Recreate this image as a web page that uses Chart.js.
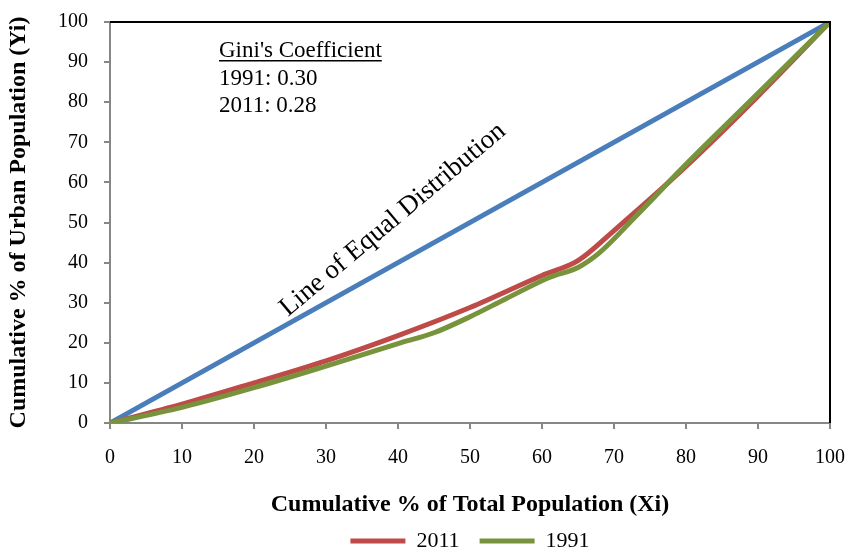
<!DOCTYPE html>
<html>
<head>
<meta charset="utf-8">
<script src="https://cdn.jsdelivr.net/npm/chart.js@4.4.1/dist/chart.umd.min.js"></script>
<style>
  html, body { margin: 0; padding: 0; background: #fff; }
  #wrap { width: 845px; height: 550px; }
</style>
</head>
<body>
<div id="wrap"><canvas id="lorenz" width="845" height="550"></canvas></div>
<script>
// Lorenz curve values (x = cumulative % total pop, y = cumulative % urban pop)
const equalX = [0, 100];
const equalY = [0, 100];

const x2011 = [0, 10, 20, 30, 40, 50, 60, 65, 70, 80, 90, 100];
const y2011 = [0, 4.7, 10, 15.5, 21.8, 28.8, 36.8, 40.5, 48, 64, 81.5, 100];

const x1991 = [0, 10, 20, 30, 40, 45, 50, 55, 61, 65, 68, 73, 80, 90, 100];
const y1991 = [0, 3.9, 8.8, 14.2, 19.8, 22.5, 26.5, 31, 36.3, 38.8, 42.5, 51.5, 64.5, 82.2, 100];

const giniTitle = "Gini's Coefficient";
const giniLines = ['1991: 0.30', '2011: 0.28'];
const equalLabel = 'Line of Equal Distribution';

const serif = '"Liberation Serif", "Times New Roman", serif';

function toPoints(xs, ys) {
  return xs.map((x, i) => ({ x: x, y: ys[i] }));
}

// draws the frame top/right lines and the text annotations
const annotations = {
  id: 'annotations',
  afterDraw(chart) {
    const ctx = chart.ctx;
    const area = chart.chartArea;
    ctx.save();
    // plot area border (top and right)
    ctx.strokeStyle = '#000';
    ctx.lineWidth = 2;
    ctx.beginPath();
    ctx.moveTo(area.left, area.top);
    ctx.lineTo(area.right, area.top);
    ctx.lineTo(area.right, area.bottom);
    ctx.stroke();

    // Gini box
    ctx.fillStyle = '#000';
    ctx.font = '23px ' + serif;
    ctx.textAlign = 'left';
    ctx.textBaseline = 'alphabetic';
    const gx = 219;
    ctx.fillText(giniTitle, gx, 57);
    const w = ctx.measureText(giniTitle).width;
    ctx.fillRect(gx, 60, w, 1.5);
    giniLines.forEach((t, i) => ctx.fillText(t, gx, 85 + i * 27));

    // rotated label along the equal line
    ctx.translate(288, 317);
    ctx.rotate(-40 * Math.PI / 180);
    ctx.font = '27px ' + serif;
    ctx.fillText(equalLabel, 0, 0);
    ctx.restore();
  }
};

const ctx = document.querySelector('#lorenz').getContext('2d');
const lorenzChart = new Chart(ctx, {
  type: 'line',
  data: {
    datasets: [
      {
        label: 'Equal',
        data: toPoints(equalX, equalY),
        borderColor: '#4a7ebb',
        backgroundColor: '#4a7ebb',
        borderWidth: 5,
        pointRadius: 0,
        order: 3
      },
      {
        label: '2011',
        data: toPoints(x2011, y2011),
        borderColor: '#be4b48',
        backgroundColor: '#be4b48',
        borderWidth: 5,
        pointRadius: 0,
        cubicInterpolationMode: 'monotone',
        order: 2
      },
      {
        label: '1991',
        data: toPoints(x1991, y1991),
        borderColor: '#77933c',
        backgroundColor: '#77933c',
        borderWidth: 5,
        pointRadius: 0,
        cubicInterpolationMode: 'monotone',
        order: 1
      }
    ]
  },
  options: {
    responsive: false,
    animation: false,
    layout: { padding: { top: 22, right: 0, bottom: -12, left: 0 } },
    plugins: {
      tooltip: { enabled: false },
      legend: {
        display: true,
        position: 'bottom',
        fullSize: false,
        labels: {
          filter: item => item.text !== 'Equal',
          sort: (a, b) => a.datasetIndex - b.datasetIndex,
          usePointStyle: true,
          pointStyle: 'line',
          pointStyleWidth: 55,
          color: '#000',
          padding: 20,
          font: { family: serif, size: 22 }
        }
      }
    },
    scales: {
      x: {
        type: 'linear',
        min: 0,
        max: 100,
        ticks: {
          stepSize: 10,
          color: '#000',
          padding: 17,
          font: { family: serif, size: 20 }
        },
        grid: {
          drawOnChartArea: false,
          drawTicks: true,
          tickLength: 6,
          color: '#868686',
          lineWidth: 2
        },
        border: { color: '#868686', width: 2 },
        title: {
          display: true,
          text: 'Cumulative % of Total Population (Xi)',
          color: '#000',
          font: { family: serif, size: 24, weight: 'bold' },
          padding: { top: 10, bottom: -9 }
        },
        afterFit(scale) {
          scale.height = 87;
          scale.paddingRight = 15;
        }
      },
      y: {
        type: 'linear',
        min: 0,
        max: 100,
        ticks: {
          stepSize: 10,
          color: '#000',
          padding: 16,
          font: { family: serif, size: 20 }
        },
        grid: {
          drawOnChartArea: false,
          drawTicks: true,
          tickLength: 6,
          color: '#868686',
          lineWidth: 2
        },
        border: { color: '#868686', width: 2 },
        title: {
          display: true,
          text: 'Cumulative % of Urban Population (Yi)',
          color: '#000',
          font: { family: serif, size: 24, weight: 'bold' },
          padding: { top: 4, bottom: 0 }
        },
        afterFit(scale) {
          scale.width = 110;
          scale.paddingTop = 0;
          scale.paddingBottom = 0;
        }
      }
    }
  },
  plugins: [annotations]
});
</script>
</body>
</html>
